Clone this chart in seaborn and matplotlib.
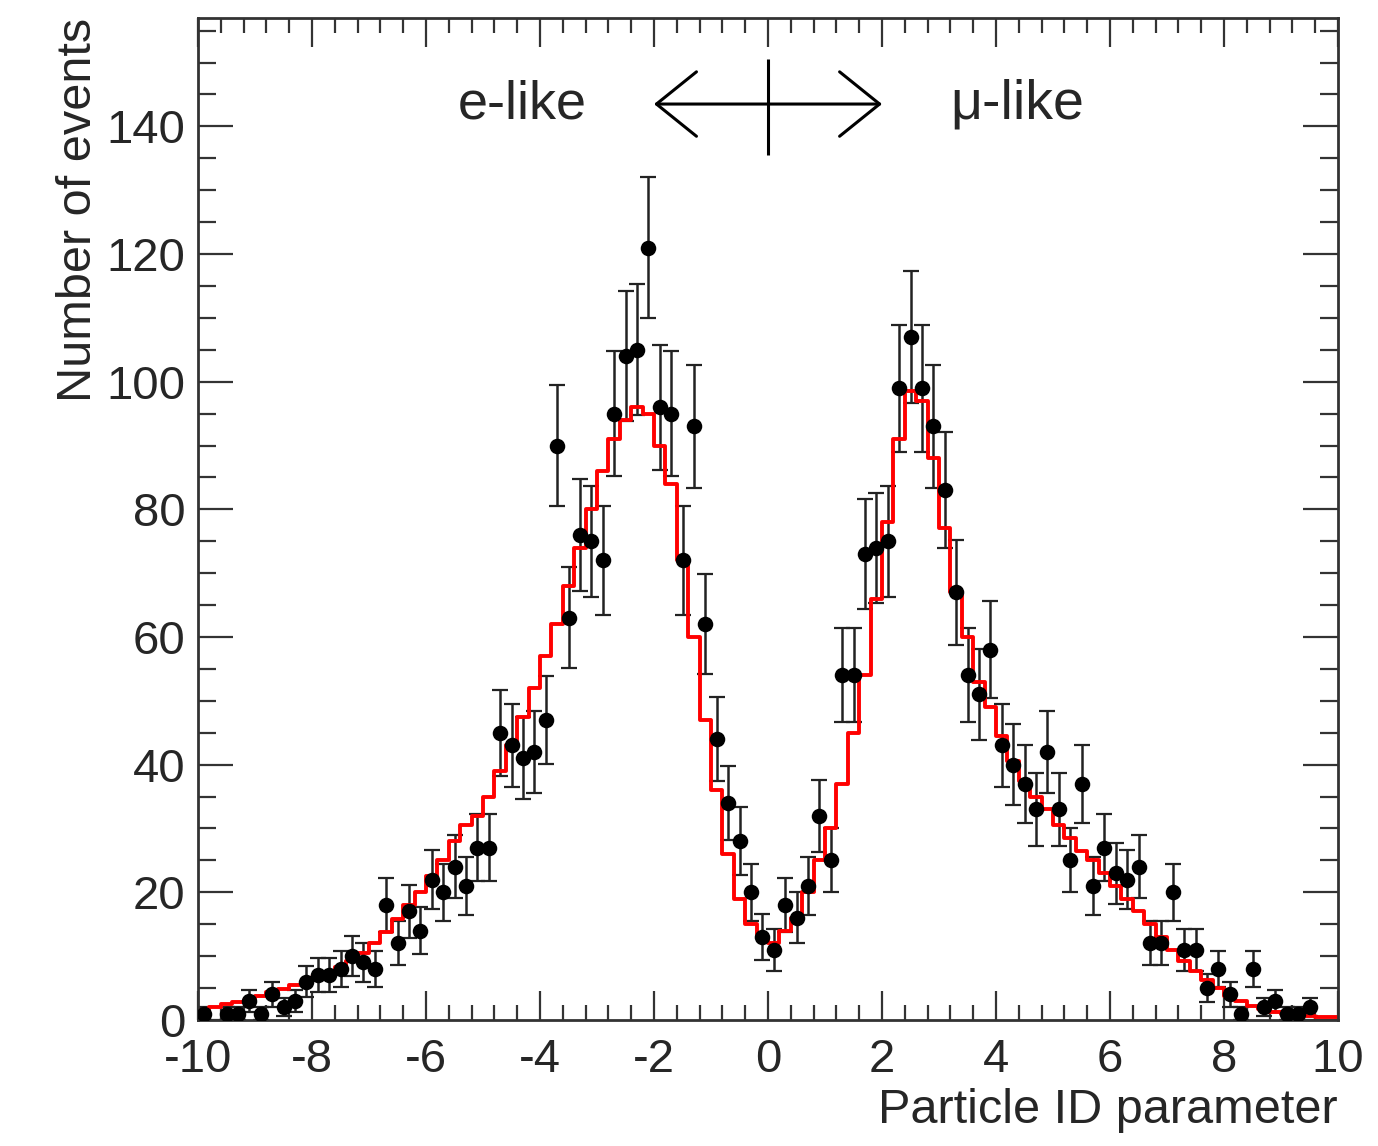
import numpy as np
import pandas as pd
import matplotlib
matplotlib.use("Agg")
import matplotlib.pyplot as plt
from matplotlib.ticker import MultipleLocator
import seaborn as sns

# histogram binning: 100 bins from -10 to 10
x_min, x_max, n_bins = -10.0, 10.0, 100

# observed events per bin (data points, error = sqrt(N))
data_counts = [
    1, 0, 1, 1, 3, 1, 4, 2, 3, 6,
    7, 7, 8, 10, 9, 8, 18, 12, 17, 14,
    22, 20, 24, 21, 27, 27, 45, 43, 41, 42,
    47, 90, 63, 76, 75, 72, 95, 104, 105, 121,
    96, 95, 72, 93, 62, 44, 34, 28, 20, 13,
    11, 18, 16, 21, 32, 25, 54, 54, 73, 74,
    75, 99, 107, 99, 93, 83, 67, 54, 51, 58,
    43, 40, 37, 33, 42, 33, 25, 37, 21, 27,
    23, 22, 24, 12, 12, 20, 11, 11, 5, 8,
    4, 1, 8, 2, 3, 1, 1, 2, 0, 0,
]

# MC expectation (red histogram)
mc_expect = [
    1.5, 2.0, 2.5, 2.8, 3.2, 3.8, 4.3, 4.8, 5.4, 6.0,
    6.7, 7.5, 8.3, 9.3, 10.5, 12.0, 13.8, 15.8, 18.0, 20.0,
    22.5, 25.0, 28.0, 30.5, 32.0, 35.0, 39.0, 43.0, 47.5, 52.0,
    57.0, 62.0, 68.0, 74.0, 80.0, 86.0, 91.0, 94.0, 96.0, 95.0,
    90.0, 84.0, 72.0, 60.0, 47.0, 36.0, 26.0, 19.0, 15.0, 13.0,
    12.0, 14.0, 16.0, 20.0, 25.0, 30.0, 37.0, 45.0, 54.0, 66.0,
    78.0, 91.0, 98.5, 97.0, 88.0, 77.0, 67.0, 60.0, 53.0, 49.0,
    44.5, 40.5, 37.5, 35.0, 33.0, 30.5, 28.5, 26.5, 25.0, 23.0,
    21.0, 19.0, 17.0, 15.0, 13.0, 11.0, 9.3, 7.7, 6.2, 5.0,
    3.8, 2.9, 2.2, 1.7, 1.3, 1.0, 0.8, 0.6, 0.5, 0.4,
]

edges = np.linspace(x_min, x_max, n_bins + 1)
centers = 0.5 * (edges[:-1] + edges[1:])
df = pd.DataFrame({"pid": centers, "data": data_counts, "mc": mc_expect})
df["err"] = np.sqrt(df["data"])
obs = df[df["data"] > 0]

sns.set_theme(style="ticks")
plt.rcParams["font.family"] = ["Liberation Sans", "DejaVu Sans"]
plt.rcParams["axes.unicode_minus"] = False

fig = plt.figure(figsize=(13.78, 11.46), dpi=100)
ax = fig.add_axes([0.1437, 0.1100, 0.8273, 0.8744])

# MC expectation as step histogram
sns.histplot(data=df, x="pid", weights="mc", bins=edges.tolist(), element="step",
             fill=False, color="red", linewidth=2.8, ax=ax, zorder=2.5)

# data with sqrt(N) error bars
ax.errorbar(obs["pid"], obs["data"], yerr=obs["err"], fmt="none",
            ecolor="#222222", elinewidth=1.8, capsize=6, capthick=1.6, zorder=2)
sns.scatterplot(data=obs, x="pid", y="data", color="black", s=125,
                edgecolor="black", linewidth=0, ax=ax, zorder=3)

ax.set_xlim(x_min, x_max)
ax.set_ylim(0, 157)

# ROOT-like ticks
ax.xaxis.set_major_locator(MultipleLocator(2))
ax.xaxis.set_minor_locator(MultipleLocator(0.4))
ax.yaxis.set_major_locator(MultipleLocator(20))
ax.yaxis.set_minor_locator(MultipleLocator(5))
ax.tick_params(which="both", direction="in", top=True, right=True,
               labelsize=34, pad=9, color="#333333", width=1.6)
ax.tick_params(axis="x", which="both", pad=13)
ax.tick_params(axis="x", which="major", length=21)
ax.tick_params(axis="x", which="minor", length=11)
ax.tick_params(axis="y", which="major", length=25)
ax.tick_params(axis="y", which="minor", length=13)
for sp in ax.spines.values():
    sp.set_visible(True)
    sp.set_linewidth(2.0)
    sp.set_color("#333333")

ax.set_xlabel("Particle ID parameter", fontsize=35, loc="right", labelpad=4)
ax.set_ylabel("Number of events", fontsize=35, loc="top", labelpad=4)

# e-like / mu-like separation marker
arrow_y = 143.5
ax.annotate("", xy=(-2, arrow_y), xytext=(2, arrow_y),
            arrowprops=dict(arrowstyle="<->,head_length=0.72,head_width=0.58",
                            lw=2.2, color="black", mutation_scale=40,
                            shrinkA=0, shrinkB=0))
ax.vlines(0, 135.5, 150.5, color="black", lw=2.2)
ax.text(-4.32, arrow_y, "e-like", fontsize=39, ha="center", va="center")
ax.text(4.37, arrow_y, "\u03bc-like", fontsize=40, ha="center", va="center")

fig.savefig("out.png", dpi=100)
